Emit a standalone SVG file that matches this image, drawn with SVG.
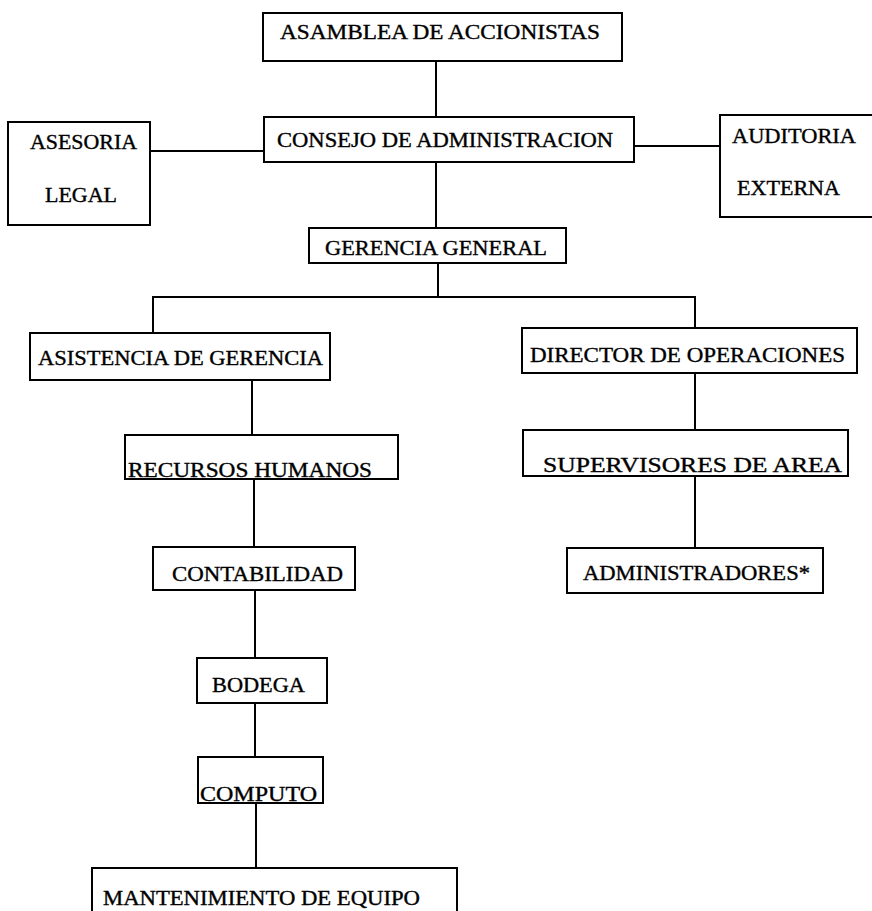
<svg xmlns="http://www.w3.org/2000/svg" width="872" height="911" viewBox="0 0 872 911">
<style>
.box{fill:#fff;stroke:#000;stroke-width:2}
.t{font-family:"Liberation Serif","Times New Roman",serif;font-size:20px;fill:#000;stroke:#000;stroke-width:0.35}
.c{stroke:#000;stroke-width:2;fill:none}
</style>
<rect width="872" height="911" fill="#fff"/>
<g id="connectors">
<line class="c" x1="436" y1="61" x2="436" y2="117"/>
<line class="c" x1="150" y1="151" x2="264" y2="151"/>
<line class="c" x1="634" y1="146" x2="720" y2="146"/>
<line class="c" x1="436" y1="162" x2="436" y2="228"/>
<line class="c" x1="438" y1="263" x2="438" y2="297"/>
<polyline class="c" points="153,333 153,297 695,297 695,328"/>
<line class="c" x1="252" y1="380" x2="252" y2="435"/>
<line class="c" x1="695" y1="373" x2="695" y2="430"/>
<line class="c" x1="695" y1="476" x2="695" y2="548"/>
<line class="c" x1="254" y1="479" x2="254" y2="547"/>
<line class="c" x1="255" y1="590" x2="255" y2="658"/>
<line class="c" x1="255" y1="703" x2="255" y2="757"/>
<line class="c" x1="256" y1="803" x2="256" y2="868"/>
</g>
<g id="asamblea"><rect class="box" x="263" y="13" width="359" height="48"/><text class="t" x="280" y="39" textLength="320" lengthAdjust="spacingAndGlyphs">ASAMBLEA DE ACCIONISTAS</text></g>
<g id="consejo"><rect class="box" x="264" y="117" width="370" height="45"/><text class="t" x="277" y="147" textLength="336" lengthAdjust="spacingAndGlyphs">CONSEJO DE ADMINISTRACION</text></g>
<g id="asesoria"><rect class="box" x="8" y="122" width="142" height="103"/><text class="t" x="30" y="149" textLength="107" lengthAdjust="spacingAndGlyphs">ASESORIA</text><text class="t" x="45" y="202" textLength="72" lengthAdjust="spacingAndGlyphs">LEGAL</text></g>
<g id="auditoria"><rect class="box" x="720" y="115" width="160" height="102"/><text class="t" x="732" y="143" textLength="124" lengthAdjust="spacingAndGlyphs">AUDITORIA</text><text class="t" x="737" y="195" textLength="103" lengthAdjust="spacingAndGlyphs">EXTERNA</text></g>
<g id="gerencia"><rect class="box" x="309" y="228" width="257" height="35"/><text class="t" x="325" y="255" textLength="222" lengthAdjust="spacingAndGlyphs">GERENCIA GENERAL</text></g>
<g id="asistencia"><rect class="box" x="30" y="333" width="300" height="47"/><text class="t" x="38" y="365" textLength="285" lengthAdjust="spacingAndGlyphs">ASISTENCIA DE GERENCIA</text></g>
<g id="director"><rect class="box" x="522" y="328" width="335" height="45"/><text class="t" x="530" y="362" textLength="315" lengthAdjust="spacingAndGlyphs">DIRECTOR DE OPERACIONES</text></g>
<g id="recursos"><rect class="box" x="125" y="435" width="273" height="44"/><text class="t" x="128" y="477" textLength="244" lengthAdjust="spacingAndGlyphs">RECURSOS HUMANOS</text></g>
<g id="supervisores"><rect class="box" x="523" y="430" width="325" height="46"/><text class="t" x="543" y="472" textLength="299" lengthAdjust="spacingAndGlyphs">SUPERVISORES DE AREA</text></g>
<g id="contabilidad"><rect class="box" x="153" y="547" width="202" height="43"/><text class="t" x="172" y="581" textLength="171" lengthAdjust="spacingAndGlyphs">CONTABILIDAD</text></g>
<g id="administradores"><rect class="box" x="567" y="548" width="256" height="45"/><text class="t" x="583" y="580" textLength="227" lengthAdjust="spacingAndGlyphs">ADMINISTRADORES*</text></g>
<g id="bodega"><rect class="box" x="197" y="658" width="130" height="45"/><text class="t" x="212" y="692" textLength="93" lengthAdjust="spacingAndGlyphs">BODEGA</text></g>
<g id="computo"><rect class="box" x="198" y="757" width="125" height="46"/><text class="t" x="200" y="801" textLength="117" lengthAdjust="spacingAndGlyphs">COMPUTO</text></g>
<g id="mantenimiento"><rect class="box" x="92" y="868" width="365" height="60"/><text class="t" x="103" y="905" textLength="317" lengthAdjust="spacingAndGlyphs">MANTENIMIENTO DE EQUIPO</text></g>
</svg>
